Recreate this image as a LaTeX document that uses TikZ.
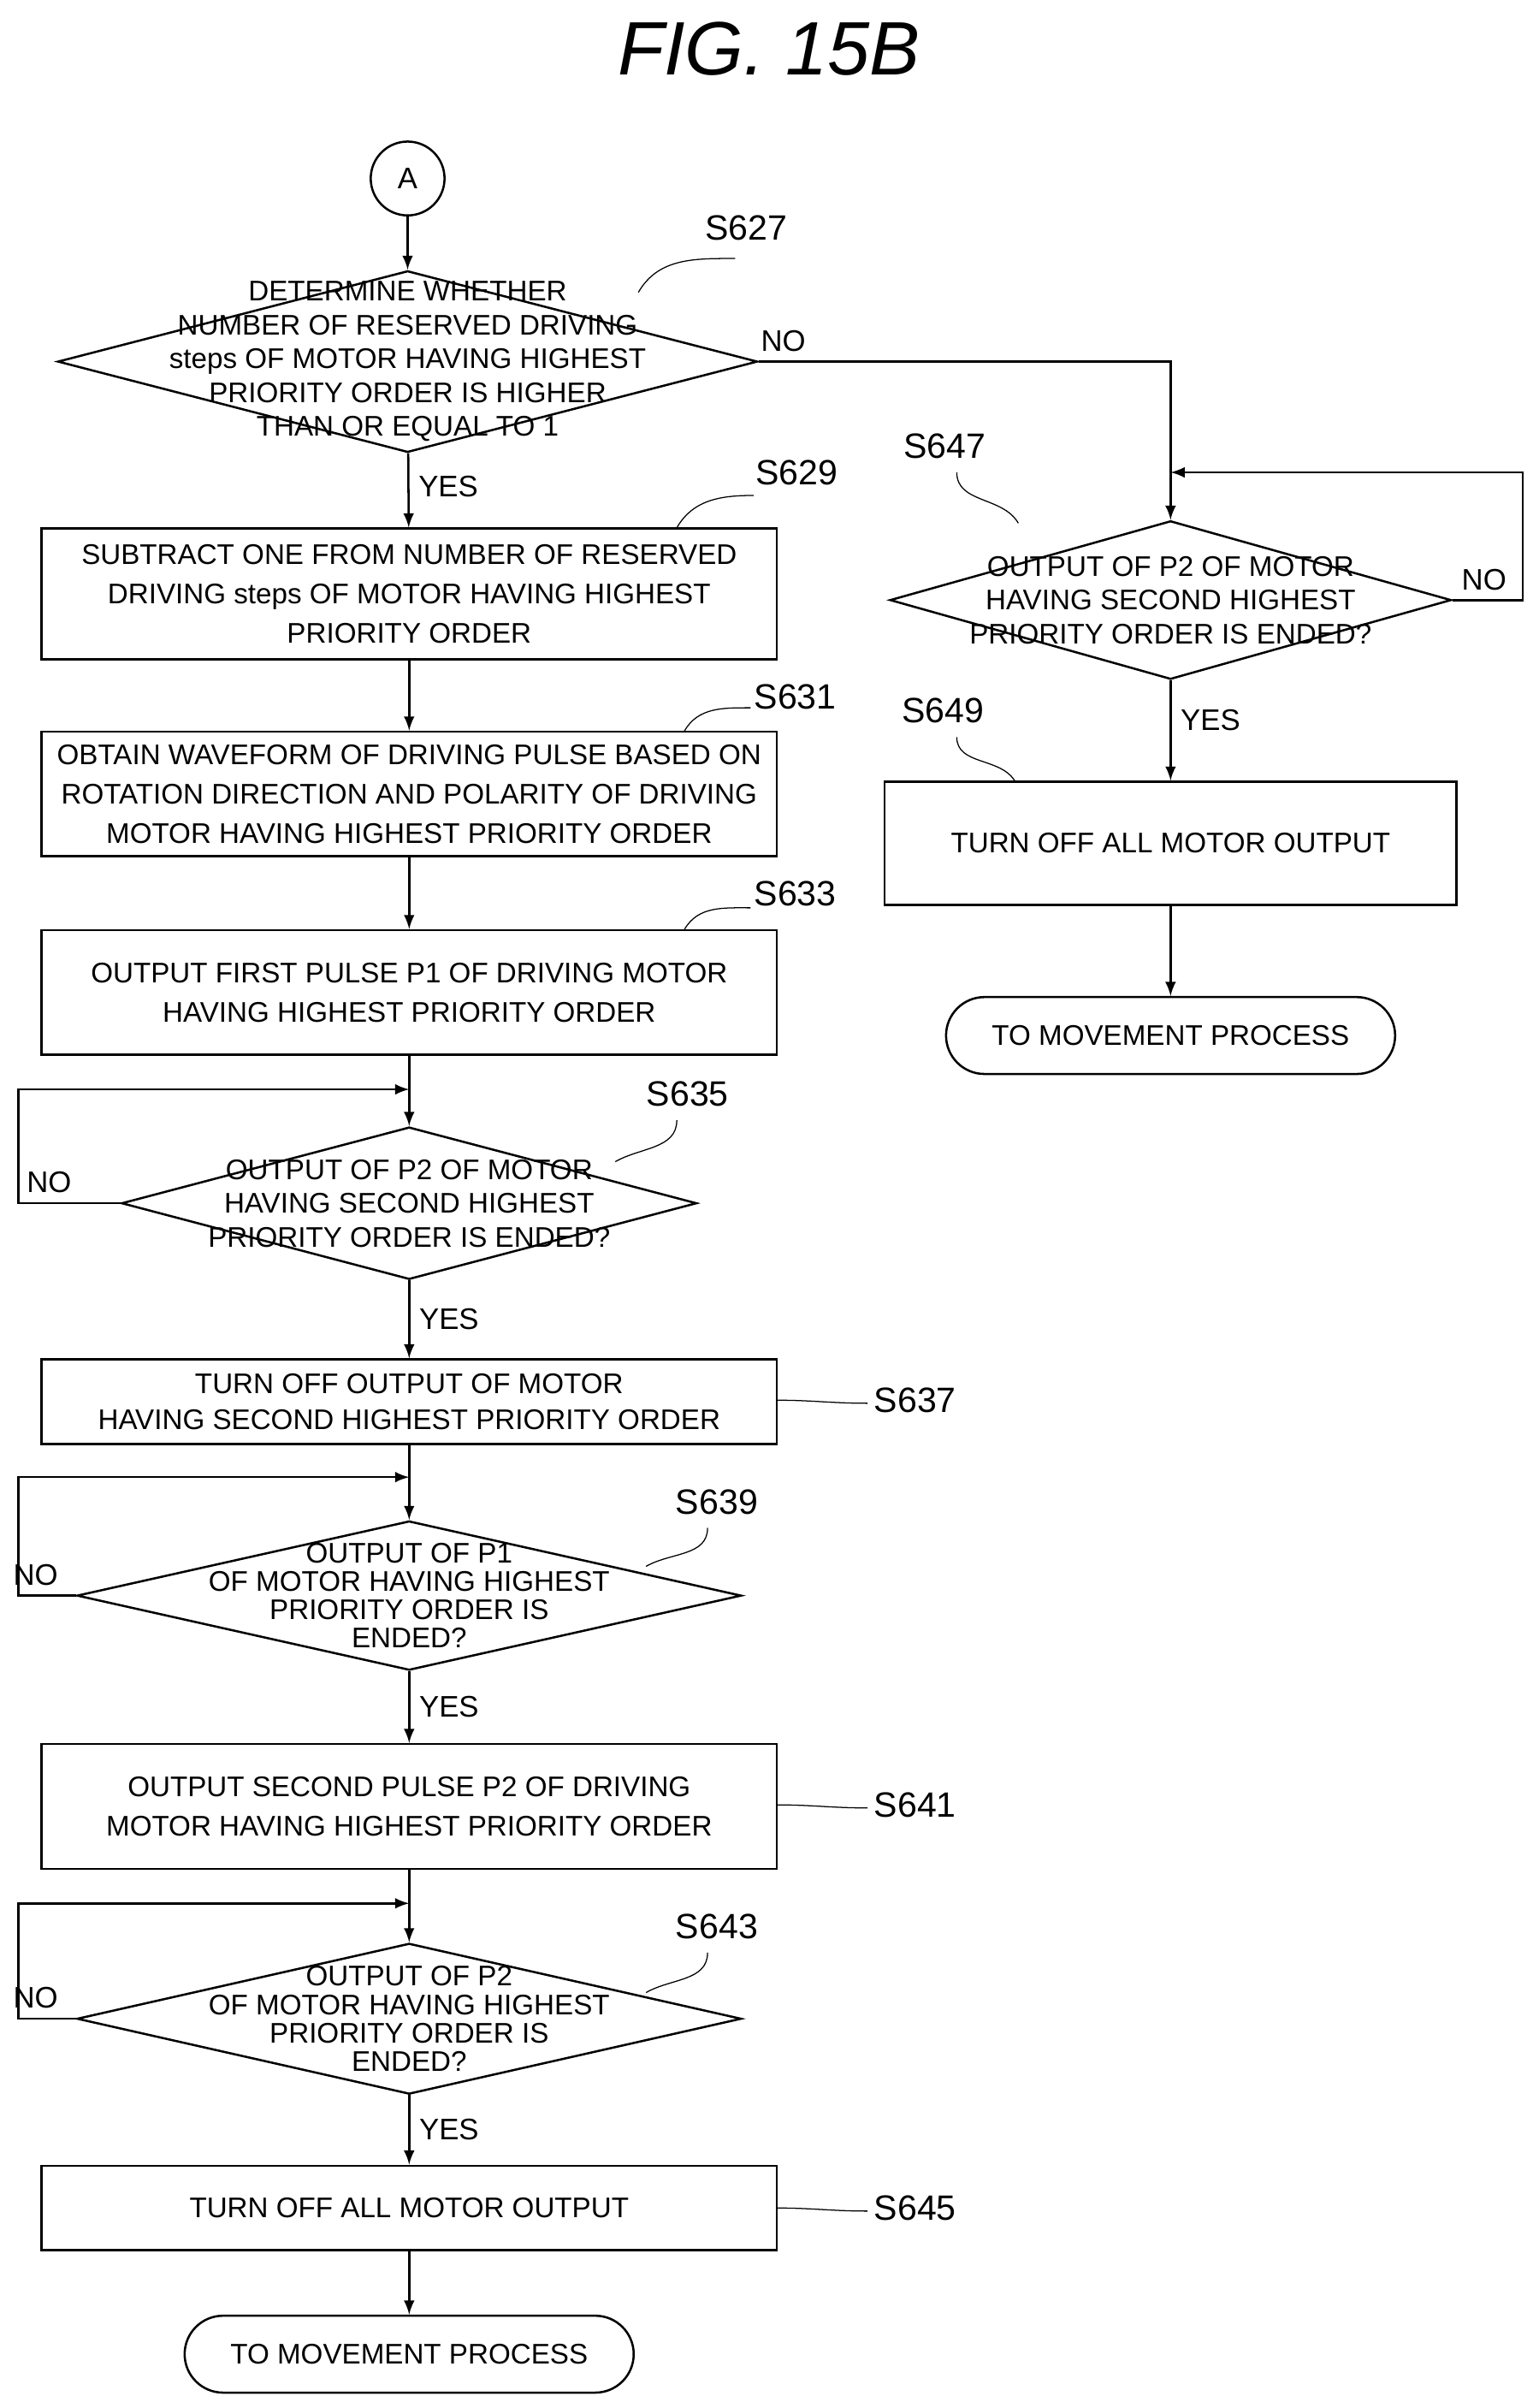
\documentclass[tikz,border=0pt]{standalone}
\usepackage{fontspec}
\setmainfont{Liberation Sans}
\usetikzlibrary{shapes.geometric}
\tikzset{
  box/.style={draw, thick, minimum width=9.56cm, align=center, font=\fontsize{10.5}{14.5}\selectfont},
  dia/.style={draw, thick, diamond, inner sep=0pt},
  txt/.style={align=center, font=\fontsize{10.5}{12.5}\selectfont},
  term/.style={draw, thick, rounded corners=0.5cm, minimum width=5.84cm, minimum height=1cm, font=\fontsize{10.5}{12.5}\selectfont},
  lbl/.style={font=\fontsize{13}{14}\selectfont},
  yn/.style={font=\fontsize{11}{12}\selectfont},
  arr/.style={thick, -latex},
  lead/.style={thin}
}
\begin{document}
\begin{tikzpicture}[x=0.02cm, y=-0.02cm]
\useasboundingbox (0,0) rectangle (1000,1565);
\node[font=\fontsize{28}{30}\selectfont\itshape] (title) at (500,32) {FIG. 15B};

% left column
\node[draw, thick, circle, minimum size=0.96cm, inner sep=0pt, font=\fontsize{11}{12}\selectfont] (A) at (265,116) {A};
\node[dia, minimum width=9.1cm, minimum height=2.36cm] (d627) at (265,235) {};
\node[txt] at (d627) {DETERMINE WHETHER\\NUMBER OF RESERVED DRIVING\\steps OF MOTOR HAVING HIGHEST\\PRIORITY ORDER IS HIGHER\\THAN OR EQUAL TO 1};
\node[box, minimum height=1.7cm] (b629) at (266,386) {SUBTRACT ONE FROM NUMBER OF RESERVED\\DRIVING steps OF MOTOR HAVING HIGHEST\\PRIORITY ORDER};
\node[box, minimum height=1.62cm] (b631) at (266,516) {OBTAIN WAVEFORM OF DRIVING PULSE BASED ON\\ROTATION DIRECTION AND POLARITY OF DRIVING\\MOTOR HAVING HIGHEST PRIORITY ORDER};
\node[box, minimum height=1.62cm] (b633) at (266,645) {OUTPUT FIRST PULSE P1 OF DRIVING MOTOR\\HAVING HIGHEST PRIORITY ORDER};
\node[dia, minimum width=7.48cm, minimum height=1.98cm] (d635) at (266,782) {};
\node[txt] at (d635) {OUTPUT OF P2 OF MOTOR\\HAVING SECOND HIGHEST\\PRIORITY ORDER IS ENDED?};
\node[box, minimum height=1.1cm, font=\fontsize{10.5}{13}\selectfont] (b637) at (266,911) {TURN OFF OUTPUT OF MOTOR\\HAVING SECOND HIGHEST PRIORITY ORDER};
\node[dia, minimum width=8.64cm, minimum height=1.94cm] (d639) at (266,1037) {};
\node[txt, font=\fontsize{10.5}{10.5}\selectfont] at (d639) {OUTPUT OF P1\\OF MOTOR HAVING HIGHEST\\PRIORITY ORDER IS\\ENDED?};
\node[box, minimum height=1.62cm] (b641) at (266,1174) {OUTPUT SECOND PULSE P2 OF DRIVING\\MOTOR HAVING HIGHEST PRIORITY ORDER};
\node[dia, minimum width=8.64cm, minimum height=1.96cm] (d643) at (266,1312) {};
\node[txt, font=\fontsize{10.5}{10.5}\selectfont] at (d643) {OUTPUT OF P2\\OF MOTOR HAVING HIGHEST\\PRIORITY ORDER IS\\ENDED?};
\node[box, minimum height=1.1cm] (b645) at (266,1435) {TURN OFF ALL MOTOR OUTPUT};
\node[term] (end1) at (266,1530) {TO MOVEMENT PROCESS};

% right column
\node[dia, minimum width=7.3cm, minimum height=2.06cm] (d647) at (761,390) {};
\node[txt] at (d647) {OUTPUT OF P2 OF MOTOR\\HAVING SECOND HIGHEST\\PRIORITY ORDER IS ENDED?};
\node[box, minimum width=7.44cm, minimum height=1.6cm] (b649) at (761,548) {TURN OFF ALL MOTOR OUTPUT};
\node[term] (end2) at (761,673) {TO MOVEMENT PROCESS};

% main flow
\draw[arr] (A) -- (d627);
\draw[arr] (d627) -- node[yn, right, pos=.45] {YES} (b629);
\draw[arr] (b629) -- (b631);
\draw[arr] (b631) -- (b633);
\draw[arr] (b633) -- (d635);
\draw[arr] (d635) -- node[yn, right] {YES} (b637);
\draw[arr] (b637) -- (d639);
\draw[arr] (d639) -- node[yn, right] {YES} (b641);
\draw[arr] (b641) -- (d643);
\draw[arr] (d643) -- node[yn, right] {YES} (b645);
\draw[arr] (b645) -- (end1);
\draw[arr] (d627.east) -- node[yn, above, pos=.06] {NO} (761,235) -- (d647.north);
\draw[arr] (d647) -- node[yn, right, pos=.4] {YES} (b649);
\draw[arr] (b649) -- (end2);

% loops
\coordinate (r647) at (990,307);
\draw[arr] (d647.east) -- node[yn, above, pos=.45] {NO} (990,390) -- (r647) -- (761,307);
\draw[arr] (d635.west) -- node[yn, above, pos=.7] {NO} (12,782) -- (12,708) -- (266,708);
\draw[arr] (d639.west) -- node[yn, above, pos=.7] {NO} (12,1037) -- (12,960) -- (266,960);
\draw[arr] (d643.west) -- node[yn, above, pos=.7] {NO} (12,1312) -- (12,1237) -- (266,1237);

% step labels
\node[lbl] (s627) at (485,148) {S627};
\draw[lead] (415,190) to[out=60, in=180] (478,168);
\node[lbl] (s629) at (518,307) {S629};
\draw[lead] (440,343) to[out=60, in=180] (490,322);
\node[lbl] (s631) at (517,453) {S631};
\draw[lead] (445,475) to[out=60, in=180] (488,460);
\node[lbl] (s633) at (517,581) {S633};
\draw[lead] (445,604) to[out=60, in=180] (488,590);
\node[lbl] (s635) at (447,711) {S635};
\draw[lead] (400,755) to[out=30, in=-90] (440,728);
\node[lbl] (s637) at (595,910) {S637};
\draw[lead] (505,910) to[out=0, in=180] (564,912);
\node[lbl] (s639) at (466,976) {S639};
\draw[lead] (420,1018) to[out=30, in=-90] (460,993);
\node[lbl] (s641) at (595,1173) {S641};
\draw[lead] (505,1173) to[out=0, in=180] (564,1175);
\node[lbl] (s643) at (466,1252) {S643};
\draw[lead] (420,1295) to[out=30, in=-90] (460,1269);
\node[lbl] (s645) at (595,1435) {S645};
\draw[lead] (505,1435) to[out=0, in=180] (564,1437);
\node[lbl] (s647) at (614,290) {S647};
\draw[lead] (662,340) to[out=120, in=-90] (622,307);
\node[lbl] (s649) at (613,462) {S649};
\draw[lead] (660,508) to[out=120, in=-90] (622,479);
\end{tikzpicture}
\end{document}
